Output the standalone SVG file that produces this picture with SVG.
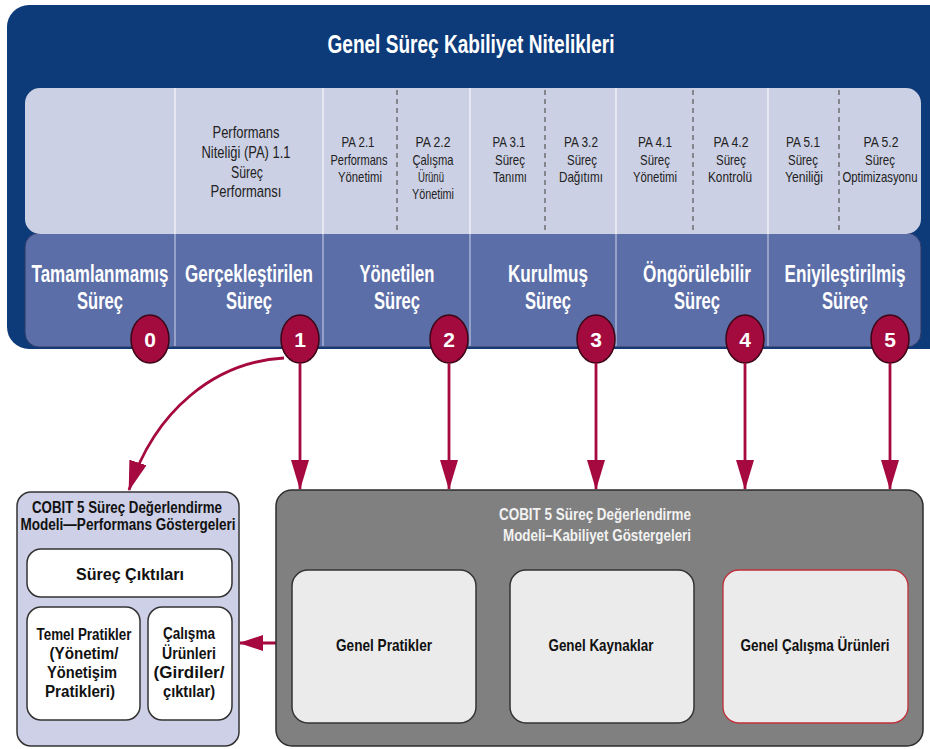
<svg xmlns="http://www.w3.org/2000/svg" width="930" height="749" viewBox="0 0 930 749">
<defs>
<style>
text{font-family:"Liberation Sans",Arial,sans-serif;text-anchor:middle}
.title{font-size:25px;font-weight:bold;fill:#fff}
.lvl{font-size:23px;font-weight:bold;fill:#fff}
.pa1{font-size:17px;fill:#222}
.pa{font-size:15px;fill:#222}
.sub{font-size:14px;fill:#222}
.num{font-size:21px;font-weight:bold;fill:#fff}
.badge{fill:#a30a3e;stroke:#3b0616;stroke-width:1.5}
.conn{stroke:#a5093f;stroke-width:2.8;fill:none}
.divl{stroke:#f4f5fa;stroke-width:1.3}
.divb{stroke:#bcc4e0;stroke-width:1.2}
.dash{stroke:#555;stroke-width:1.2;stroke-dasharray:5 4}
.box{stroke:#333;stroke-width:1.5}
.bt{font-weight:bold;fill:#111}
.gt{font-size:16px;font-weight:bold;fill:#f2f2f2}
.gi{font-size:17px;font-weight:bold;fill:#111}
.lt{font-size:16px;font-weight:bold;fill:#111}
</style>
<marker id="ah" markerUnits="userSpaceOnUse" viewBox="0 0 30 18" markerWidth="30" markerHeight="18" refX="29" refY="9" orient="auto"><path d="M0,0 L30,9 L0,18 z" fill="#a5093f"/></marker>
<marker id="ahs" markerUnits="userSpaceOnUse" viewBox="0 0 24 16" markerWidth="24" markerHeight="16" refX="23" refY="8" orient="auto"><path d="M0,0 L24,8 L0,16 z" fill="#a5093f"/></marker>
</defs>

<g id="capability-panel">
<rect x="7" y="5" width="950" height="344" rx="22" fill="#0d3b7a"/>
<text class="title" transform="scale(0.76,1)" x="619.7" y="53" textLength="377.6" lengthAdjust="spacingAndGlyphs">Genel Süreç Kabiliyet Nitelikleri</text>
<rect x="25" y="233" width="896" height="114" rx="14" fill="#5b6ea7" stroke="#2e3a66" stroke-width="1"/>
<rect x="25" y="88" width="896" height="146" rx="15" fill="#ccd0e4"/>
<g>
<line class="divl" x1="175" y1="88" x2="175" y2="234"/>
<line class="divl" x1="323" y1="88" x2="323" y2="234"/>
<line class="divl" x1="470" y1="88" x2="470" y2="234"/>
<line class="divl" x1="616" y1="88" x2="616" y2="234"/>
<line class="divl" x1="768" y1="88" x2="768" y2="234"/>
<line class="divb" x1="175" y1="234" x2="175" y2="346"/>
<line class="divb" x1="323" y1="234" x2="323" y2="346"/>
<line class="divb" x1="470" y1="234" x2="470" y2="346"/>
<line class="divb" x1="616" y1="234" x2="616" y2="346"/>
<line class="divb" x1="768" y1="234" x2="768" y2="346"/>
<line class="dash" x1="397" y1="90" x2="397" y2="233"/>
<line class="dash" x1="545" y1="90" x2="545" y2="233"/>
<line class="dash" x1="693" y1="90" x2="693" y2="233"/>
<line class="dash" x1="839" y1="90" x2="839" y2="233"/>
</g>
</g>

<g id="pa-1-1" transform="scale(0.8,1)">
<text class="pa1" x="307.5" y="138" textLength="83.75" lengthAdjust="spacingAndGlyphs">Performans</text>
<text class="pa1" x="307.5" y="158" textLength="111.25" lengthAdjust="spacingAndGlyphs">Niteliği (PA) 1.1</text>
<text class="pa1" x="308.75" y="178" textLength="40" lengthAdjust="spacingAndGlyphs">Süreç</text>
<text class="pa1" x="307.5" y="197" textLength="88.75" lengthAdjust="spacingAndGlyphs">Performansı</text>
</g>
<g id="pa-2-1" transform="scale(0.8,1)">
<text class="pa" x="447.5" y="147" textLength="41.25" lengthAdjust="spacingAndGlyphs">PA 2.1</text>
<text class="sub" x="448.75" y="165" textLength="71.25" lengthAdjust="spacingAndGlyphs">Performans</text>
<text class="sub" x="450" y="182" textLength="55" lengthAdjust="spacingAndGlyphs">Yönetimi</text>
</g>
<g id="pa-2-2" transform="scale(0.8,1)">
<text class="pa" x="541.25" y="147" textLength="43.75" lengthAdjust="spacingAndGlyphs">PA 2.2</text>
<text class="sub" x="541.25" y="165" textLength="51.25" lengthAdjust="spacingAndGlyphs">Çalışma</text>
<text class="sub" x="538.75" y="182" textLength="32.5" lengthAdjust="spacingAndGlyphs">Ürünü</text>
<text class="sub" x="541.25" y="199" textLength="52.5" lengthAdjust="spacingAndGlyphs">Yönetimi</text>
</g>
<g id="pa-3-1" transform="scale(0.8,1)">
<text class="pa" x="636.25" y="147" textLength="41.25" lengthAdjust="spacingAndGlyphs">PA 3.1</text>
<text class="sub" x="637.5" y="165" textLength="37.5" lengthAdjust="spacingAndGlyphs">Süreç</text>
<text class="sub" x="637.5" y="182" textLength="42.5" lengthAdjust="spacingAndGlyphs">Tanımı</text>
</g>
<g id="pa-3-2" transform="scale(0.8,1)">
<text class="pa" x="726.25" y="147" textLength="42.5" lengthAdjust="spacingAndGlyphs">PA 3.2</text>
<text class="sub" x="727.5" y="165" textLength="37.5" lengthAdjust="spacingAndGlyphs">Süreç</text>
<text class="sub" x="726.25" y="182" textLength="55" lengthAdjust="spacingAndGlyphs">Dağıtımı</text>
</g>
<g id="pa-4-1" transform="scale(0.8,1)">
<text class="pa" x="818.75" y="147" textLength="42.5" lengthAdjust="spacingAndGlyphs">PA 4.1</text>
<text class="sub" x="818.75" y="165" textLength="37.5" lengthAdjust="spacingAndGlyphs">Süreç</text>
<text class="sub" x="818.75" y="182" textLength="55" lengthAdjust="spacingAndGlyphs">Yönetimi</text>
</g>
<g id="pa-4-2" transform="scale(0.8,1)">
<text class="pa" x="913.75" y="147" textLength="43.75" lengthAdjust="spacingAndGlyphs">PA 4.2</text>
<text class="sub" x="913.75" y="165" textLength="37.5" lengthAdjust="spacingAndGlyphs">Süreç</text>
<text class="sub" x="912.5" y="182" textLength="55" lengthAdjust="spacingAndGlyphs">Kontrolü</text>
</g>
<g id="pa-5-1" transform="scale(0.8,1)">
<text class="pa" x="1003.75" y="147" textLength="42.5" lengthAdjust="spacingAndGlyphs">PA 5.1</text>
<text class="sub" x="1003.75" y="165" textLength="37.5" lengthAdjust="spacingAndGlyphs">Süreç</text>
<text class="sub" x="1005" y="182" textLength="47.5" lengthAdjust="spacingAndGlyphs">Yeniliği</text>
</g>
<g id="pa-5-2" transform="scale(0.8,1)">
<text class="pa" x="1101.25" y="147" textLength="43.75" lengthAdjust="spacingAndGlyphs">PA 5.2</text>
<text class="sub" x="1100" y="165" textLength="37.5" lengthAdjust="spacingAndGlyphs">Süreç</text>
<text class="sub" x="1100" y="182" textLength="93.75" lengthAdjust="spacingAndGlyphs">Optimizasyonu</text>
</g>

<g id="level-0">
<text class="lvl" transform="scale(0.7,1)" x="142.86" y="282" textLength="195.71" lengthAdjust="spacingAndGlyphs">Tamamlanmamış</text>
<text class="lvl" transform="scale(0.7,1)" x="142.86" y="309" textLength="65.71" lengthAdjust="spacingAndGlyphs">Süreç</text>
<ellipse class="badge" cx="150" cy="339" rx="19" ry="24"/>
<text class="num" x="150" y="347">0</text>
</g>
<g id="level-1">
<text class="lvl" transform="scale(0.7,1)" x="355.71" y="282" textLength="182.86" lengthAdjust="spacingAndGlyphs">Gerçekleştirilen</text>
<text class="lvl" transform="scale(0.7,1)" x="355.71" y="309" textLength="65.71" lengthAdjust="spacingAndGlyphs">Süreç</text>
<ellipse class="badge" cx="300" cy="339" rx="19" ry="24"/>
<text class="num" x="300" y="347">1</text>
</g>
<g id="level-2">
<text class="lvl" transform="scale(0.7,1)" x="567.14" y="282" textLength="107.14" lengthAdjust="spacingAndGlyphs">Yönetilen</text>
<text class="lvl" transform="scale(0.7,1)" x="567.14" y="309" textLength="65.71" lengthAdjust="spacingAndGlyphs">Süreç</text>
<ellipse class="badge" cx="449" cy="339" rx="19" ry="24"/>
<text class="num" x="449" y="347">2</text>
</g>
<g id="level-3">
<text class="lvl" transform="scale(0.7,1)" x="782.86" y="282" textLength="114.29" lengthAdjust="spacingAndGlyphs">Kurulmuş</text>
<text class="lvl" transform="scale(0.7,1)" x="782.86" y="309" textLength="65.71" lengthAdjust="spacingAndGlyphs">Süreç</text>
<ellipse class="badge" cx="596" cy="339" rx="19" ry="24"/>
<text class="num" x="596" y="347">3</text>
</g>
<g id="level-4">
<text class="lvl" transform="scale(0.7,1)" x="995.71" y="282" textLength="154.29" lengthAdjust="spacingAndGlyphs">Öngörülebilir</text>
<text class="lvl" transform="scale(0.7,1)" x="995.71" y="309" textLength="65.71" lengthAdjust="spacingAndGlyphs">Süreç</text>
<ellipse class="badge" cx="745" cy="339" rx="19" ry="24"/>
<text class="num" x="745" y="347">4</text>
</g>
<g id="level-5">
<text class="lvl" transform="scale(0.7,1)" x="1207.14" y="282" textLength="172.86" lengthAdjust="spacingAndGlyphs">Eniyileştirilmiş</text>
<text class="lvl" transform="scale(0.7,1)" x="1207.14" y="309" textLength="65.71" lengthAdjust="spacingAndGlyphs">Süreç</text>
<ellipse class="badge" cx="890" cy="339" rx="19" ry="24"/>
<text class="num" x="890" y="347">5</text>
</g>

<g id="connectors">
<path class="conn" d="M284 358 C215 362 155 410 129 490" marker-end="url(#ah)"/>
<line class="conn" x1="300" y1="363" x2="300" y2="489" marker-end="url(#ah)"/>
<line class="conn" x1="449" y1="363" x2="449" y2="489" marker-end="url(#ah)"/>
<line class="conn" x1="596" y1="363" x2="596" y2="489" marker-end="url(#ah)"/>
<line class="conn" x1="745" y1="363" x2="745" y2="489" marker-end="url(#ah)"/>
<line class="conn" x1="890" y1="363" x2="890" y2="489" marker-end="url(#ah)"/>
<line class="conn" x1="276" y1="643" x2="240" y2="643" marker-end="url(#ahs)"/>
</g>

<g id="performance-indicators">
<rect class="box" x="17" y="492" width="222" height="254" rx="14" fill="#cdd0e6"/>
<text class="lt" x="127" y="513" textLength="190" lengthAdjust="spacingAndGlyphs">COBIT 5 Süreç Değerlendirme</text>
<text class="lt" x="128" y="530" textLength="215" lengthAdjust="spacingAndGlyphs">Modeli—Performans Göstergeleri</text>
</g>
<g id="process-outcomes">
<rect class="box" x="27" y="549" width="205" height="48" rx="14" fill="#fff"/>
<text class="bt" x="130" y="580" font-size="17" textLength="108" lengthAdjust="spacingAndGlyphs">Süreç Çıktıları</text>
</g>
<g id="base-practices">
<rect class="box" x="27" y="607" width="113" height="113" rx="14" fill="#fff"/>
<text class="bt" x="84" y="640" font-size="16" textLength="95" lengthAdjust="spacingAndGlyphs">Temel Pratikler</text>
<text class="bt" x="84" y="659" font-size="16" textLength="69" lengthAdjust="spacingAndGlyphs">(Yönetim/</text>
<text class="bt" x="82" y="678" font-size="16" textLength="70" lengthAdjust="spacingAndGlyphs">Yönetişim</text>
<text class="bt" x="80" y="697" font-size="16" textLength="70" lengthAdjust="spacingAndGlyphs">Pratikleri)</text>
</g>
<g id="work-products">
<rect class="box" x="148" y="607" width="84" height="113" rx="14" fill="#fff"/>
<text class="bt" x="189" y="639" font-size="16" textLength="52" lengthAdjust="spacingAndGlyphs">Çalışma</text>
<text class="bt" x="189" y="659" font-size="16" textLength="54" lengthAdjust="spacingAndGlyphs">Ürünleri</text>
<text class="bt" transform="scale(0.85,1)" x="222.35" y="678" font-size="16" textLength="83.53" lengthAdjust="spacingAndGlyphs">(Girdiler/</text>
<text class="bt" x="189" y="697" font-size="16" textLength="52" lengthAdjust="spacingAndGlyphs">çıktılar)</text>
</g>

<g id="capability-indicators">
<rect x="276" y="490" width="647" height="256" rx="16" fill="#808080" stroke="#2d2d2d" stroke-width="1.5"/>
<text class="gt" x="595" y="520" textLength="192" lengthAdjust="spacingAndGlyphs">COBIT 5 Süreç Değerlendirme</text>
<text class="gt" x="597" y="541" textLength="188" lengthAdjust="spacingAndGlyphs">Modeli–Kabiliyet Göstergeleri</text>
</g>
<g id="generic-practices">
<rect class="box" x="292" y="570" width="184" height="153" rx="16" fill="#ebebeb"/>
<text class="gi" x="384" y="651" textLength="96" lengthAdjust="spacingAndGlyphs">Genel Pratikler</text>
</g>
<g id="generic-resources">
<rect class="box" x="510" y="570" width="184" height="153" rx="16" fill="#ebebeb"/>
<text class="gi" x="601" y="651" textLength="105" lengthAdjust="spacingAndGlyphs">Genel Kaynaklar</text>
</g>
<g id="generic-work-products">
<rect x="723" y="570" width="185" height="153" rx="16" fill="#ebebeb" stroke="#c0303a" stroke-width="1.3"/>
<text class="gi" x="815" y="651" textLength="149" lengthAdjust="spacingAndGlyphs">Genel Çalışma Ürünleri</text>
</g>
</svg>
